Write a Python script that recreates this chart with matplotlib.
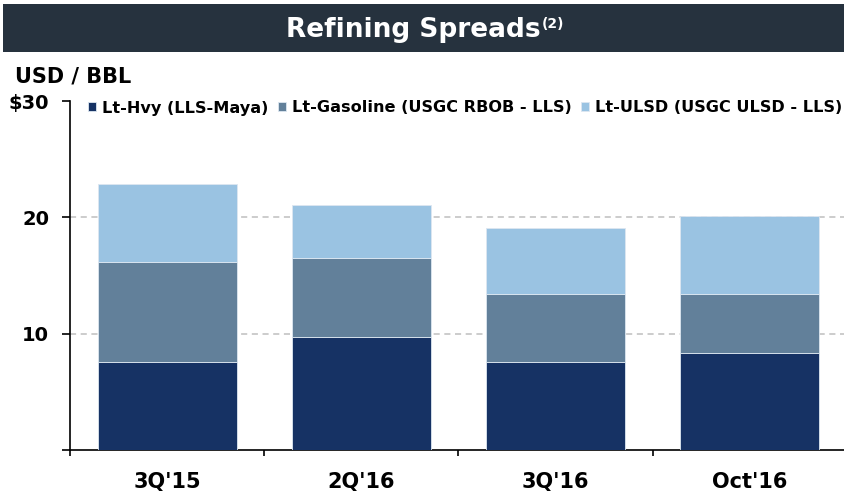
import matplotlib
matplotlib.use("Agg")
import numpy as np
import matplotlib.pyplot as plt
from matplotlib.patches import Rectangle

# data (USD / BBL)
categories = ["3Q'15", "2Q'16", "3Q'16", "Oct'16"]
lt_hvy = [7.6, 9.7, 7.6, 8.3]
lt_gasoline = [8.6, 6.8, 5.8, 5.1]
lt_ulsd = [6.7, 4.6, 5.7, 6.7]
series_names = ["Lt-Hvy (LLS-Maya)", "Lt-Gasoline (USGC RBOB - LLS)", "Lt-ULSD (USGC ULSD - LLS)"]
ytick_vals = [0, 10, 20, 30]
ytick_labels = ["", "10", "20", "$30"]

colors = ["#163264", "#62809A", "#9AC3E2"]
W, H = 844, 492

plt.rcParams['font.family'] = ['DejaVu Sans']
fig = plt.figure(figsize=(W / 100, H / 100), dpi=100)

# title banner
fig.patches.append(Rectangle((3 / W, 1 - 52 / H), 1, 48 / H, transform=fig.transFigure,
                             facecolor="#26323E", edgecolor="none", zorder=0))
fig.text(413 / W, 1 - 37 / H, "Refining Spreads", color="white", fontsize=19,
         fontweight="bold", ha="center", va="baseline")
fig.text(542 / W, 1 - 28 / H, "(2)", color="white", fontsize=10,
         fontweight="bold", ha="left", va="baseline")
fig.text(15 / W, 1 - 83 / H, "USD / BBL", fontsize=15, fontweight="bold", va="baseline")

ax = fig.add_axes([70 / W, 42 / H, 777 / W, 349 / H])
x = np.arange(len(categories))
bw = 0.716
bottom = np.zeros(len(categories))
handles = []
for vals, c, name in zip([lt_hvy, lt_gasoline, lt_ulsd], colors, series_names):
    b = ax.bar(x, vals, bw, bottom=bottom, color=c, edgecolor="#dde7f1", linewidth=0.6,
               label=name, zorder=3)
    handles.append(b)
    bottom += np.array(vals)

ax.set_xlim(-0.5, len(categories) - 0.5)
ax.set_ylim(0, 30)
ax.set_yticks(ytick_vals)
ax.set_yticklabels(ytick_labels, fontsize=14, fontweight="bold")
ax.tick_params(axis="y", length=6, width=1.2, pad=9)
ax.set_xticks(x)
ax.set_xticklabels(categories, fontsize=15, fontweight="bold")
ax.tick_params(axis="x", which="major", length=0, pad=16)
ax.set_xticks(np.arange(len(categories) + 1) - 0.5, minor=True)
ax.tick_params(axis="x", which="minor", length=4, width=1.2)

ax.yaxis.grid(True, color="#BFBFBF", linestyle=(0, (4, 3)), linewidth=1.1, zorder=0)
ax.set_axisbelow(True)
yt = ax.yaxis.get_major_ticks()
for i, t in enumerate(yt):
    if ytick_vals[i] in (10, 20):
        t.tick1line.set_color("#BFBFBF")
    if ytick_vals[i] in (0, 30):
        t.gridline.set_visible(False)

for s in ["top", "right"]:
    ax.spines[s].set_visible(False)
for s in ["left", "bottom"]:
    ax.spines[s].set_linewidth(1.2)

leg = fig.legend(handles=handles, loc="center left", bbox_to_anchor=(85 / W, 1 - 108 / H),
                 ncol=3, frameon=True, facecolor="white", edgecolor="none", framealpha=1,
                 prop={"weight": "bold", "size": 11.6}, handlelength=0.5, handleheight=0.5,
                 handletextpad=0.35, columnspacing=0.6, borderpad=0.2, borderaxespad=0)
leg.set_zorder(5)

fig.savefig("out.png", dpi=100)
